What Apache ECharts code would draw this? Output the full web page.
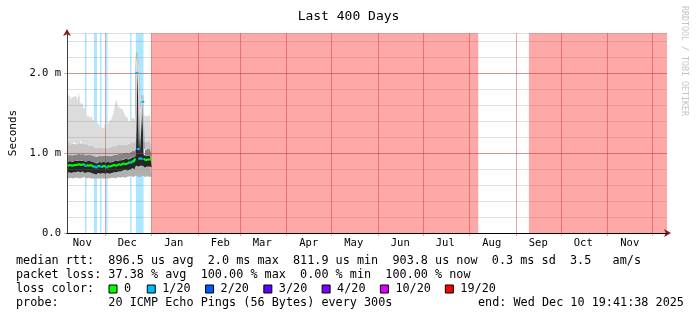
<!DOCTYPE html>
<html><head><meta charset="utf-8">
<script src="https://cdn.jsdelivr.net/npm/echarts@6/dist/echarts.min.js"></script>
<style>html,body{margin:0;padding:0;background:#fff}#c{width:697px;height:321px}</style>
</head><body><div id="c"></div>
<script>
// ---------- data ----------
const startTime = '2024-11-05T19:41:38Z';
const endTime = '2025-12-10T19:41:38Z';
const monthStarts = ['2024-12-01','2025-01-01','2025-02-01','2025-03-01','2025-04-01','2025-05-01','2025-06-01','2025-07-01','2025-08-01','2025-09-01','2025-10-01','2025-11-01','2025-12-01'];
const monthLabelDates = ['2024-11-16','2024-12-16','2025-01-16','2025-02-16','2025-03-16','2025-04-16','2025-05-16','2025-06-16','2025-07-16','2025-08-16','2025-09-16','2025-10-16','2025-11-16'];
const monthLabelNames = ['Nov','Dec','Jan','Feb','Mar','Apr','May','Jun','Jul','Aug','Sep','Oct','Nov'];
const yMajorTicks = [0, 1, 2];   // ms

// daily samples from startTime (ms)
const medianRtt = [0.84,0.85,0.83,0.84,0.85,0.86,0.85,0.86,0.86,0.85,
  0.86,0.85,0.84,0.85,0.84,0.85,0.84,0.83,0.83,0.82,
  0.83,0.84,0.83,0.82,0.84,0.83,0.82,0.84,0.83,0.84,
  0.84,0.85,0.84,0.85,0.86,0.85,0.86,0.87,0.86,0.88,
  0.87,0.89,0.88,0.90,0.89,0.92,2.00,1.05,0.93,0.93,
  1.64,0.93,0.91,0.92,0.94,0.92,0.91];
const lossCount = [0,0,0,0,0,0,0,0,0,0,
  0,0,1,0,0,0,0,0,1,1,
  0,0,1,0,0,0,1,0,0,0,
  0,0,0,0,0,0,0,0,0,0,
  0,0,1,0,0,0,1,1,1,1,
  1,0,0,0,0,0,0];
const smokeMin = [0.69,0.68,0.69,0.69,0.68,0.69,0.70,0.69,0.68,0.69,
  0.69,0.70,0.69,0.68,0.69,0.69,0.68,0.68,0.69,0.68,
  0.68,0.69,0.68,0.68,0.69,0.68,0.68,0.69,0.68,0.69,
  0.69,0.69,0.68,0.69,0.70,0.69,0.70,0.70,0.69,0.70,
  0.70,0.71,0.70,0.71,0.70,0.71,0.72,0.70,0.71,0.70,
  0.72,0.71,0.70,0.71,0.71,0.70,0.71];
const smokeLow = [0.75,0.76,0.74,0.75,0.76,0.77,0.76,0.77,0.77,0.76,
  0.77,0.76,0.75,0.76,0.75,0.76,0.75,0.74,0.74,0.73,
  0.74,0.75,0.74,0.73,0.75,0.74,0.73,0.75,0.74,0.75,
  0.75,0.76,0.75,0.76,0.77,0.76,0.77,0.78,0.77,0.79,
  0.78,0.80,0.79,0.81,0.80,0.82,0.84,0.83,0.83,0.84,
  0.84,0.84,0.82,0.83,0.85,0.83,0.82];
const smokeHigh = [0.89,0.90,0.88,0.89,0.90,0.91,0.90,0.91,0.91,0.90,
  0.91,0.90,0.89,0.90,0.89,0.90,0.89,0.88,0.88,0.87,
  0.88,0.89,0.88,0.87,0.89,0.88,0.87,0.89,0.88,0.89,
  0.89,0.90,0.89,0.90,0.91,0.90,0.91,0.92,0.91,0.93,
  0.92,0.94,0.93,0.95,0.94,0.97,2.27,2.05,0.98,1.60,
  1.73,0.98,0.96,0.97,0.99,0.97,0.96];
const smokeP80 = [0.97,0.98,0.96,0.97,0.98,0.99,0.98,0.99,0.99,0.98,
  0.99,0.98,0.97,0.98,0.97,0.98,0.97,0.96,0.96,0.95,
  0.96,0.97,0.96,0.95,0.97,0.96,0.95,0.97,0.96,0.97,
  0.97,0.98,0.97,0.98,0.99,0.98,0.99,1.00,0.99,1.01,
  1.00,1.02,1.01,1.03,1.02,1.05,2.27,2.05,1.06,1.60,
  1.73,1.06,1.04,1.05,1.07,1.05,1.04];
const smokeP90 = [1.12,1.14,1.10,1.12,1.11,1.13,1.11,1.12,1.15,1.12,
  1.12,1.11,1.10,1.11,1.09,1.10,1.10,1.08,1.07,1.06,
  1.07,1.08,1.07,1.06,1.08,1.07,1.06,1.08,1.07,1.08,
  1.08,1.09,1.08,1.11,1.10,1.10,1.10,1.11,1.10,1.12,
  1.11,1.12,1.12,1.14,1.13,1.15,2.27,2.05,1.16,1.60,
  1.73,1.15,1.14,1.15,1.17,1.15,1.14];
const smokeMax = [1.72,1.72,1.66,1.70,1.70,1.72,1.72,1.66,1.76,1.62,
  1.62,1.56,1.56,1.45,1.47,1.44,1.46,1.42,1.40,1.38,
  1.38,1.36,1.31,1.32,1.30,1.35,1.38,1.34,1.40,1.42,
  1.45,1.50,1.62,1.67,1.58,1.56,1.55,1.54,1.50,1.46,
  1.44,1.39,1.41,1.44,1.43,1.45,2.27,2.05,1.42,1.60,
  1.73,1.46,1.47,1.45,1.48,1.46,1.44];
const outagePeriods = [['2025-01-01T04:00:00Z','2025-08-07T00:00:00Z'],['2025-09-09T18:00:00Z','2025-12-10T19:41:38Z']];

const legendRows = [
  'median rtt:  896.5 us avg  2.0 ms max  811.9 us min  903.8 us now  0.3 ms sd  3.5   am/s',
  'packet loss: 37.38 % avg  100.00 % max  0.00 % min  100.00 % now',
  'loss color:',
  'probe:       20 ICMP Echo Pings (56 Bytes) every 300s'
];
const endText = 'end: Wed Dec 10 19:41:38 2025';
const lossLegendLabels = ['0','1/20','2/20','3/20','4/20','10/20','19/20'];
const lossLegendColors = ['#00ff00','#00b8ff','#0059ff','#5e00ff','#7e00ff','#dd00ff','#ff0000'];

// ---------- build ----------
const DAY = 86400000;
const t0 = Date.parse(startTime), t1 = Date.parse(endTime);
const ts = i => t0 + (i + 0.5) * DAY;
const utc = s => Date.parse(s + 'T00:00:00Z');
const labelMap = {};
monthLabelDates.forEach((d, i) => { labelMap[utc(d)] = monthLabelNames[i]; });

const FONT = 'DejaVu Sans Mono';
const bounds = [smokeMin, smokeLow, smokeHigh, smokeP80, smokeP90, smokeMax];
const bandColors = ['#b0b0b0', '#262626', '#858585', '#c6c6c6', '#dcdcdc'];
const series = [];

// loss background bands
const lossBg = {1:'rgba(0,184,255,0.33)', 2:'rgba(0,89,255,0.33)', 19:'rgba(255,0,0,0.34)', 20:'rgba(255,0,0,0.34)'};
const areas = [];
let i = 0;
while (i < lossCount.length) {
  if (lossCount[i] > 0) {
    let j = i;
    while (j + 1 < lossCount.length && lossCount[j + 1] === lossCount[i]) j++;
    areas.push([{xAxis: t0 + i * DAY, itemStyle: {color: lossBg[lossCount[i]]}}, {xAxis: t0 + (j + 1) * DAY}]);
    i = j + 1;
  } else i++;
}
outagePeriods.forEach(p => areas.push([{xAxis: Date.parse(p[0]), itemStyle: {color: lossBg[20]}}, {xAxis: Date.parse(p[1])}]));
series.push({type: 'line', data: [[t0, null]], silent: true, z: 1,
  markArea: {silent: true, data: areas}});

bounds.forEach((arr, k) => {
  const data = arr.map((v, idx) => [ts(idx), k === 0 ? v : +(v - bounds[k - 1][idx]).toFixed(4)]);
  const s = {type: 'line', stack: 'smoke', step: 'middle', data, symbol: 'none', silent: true, z: 2,
    lineStyle: {width: 0, opacity: 0}};
  if (k > 0) s.areaStyle = {color: bandColors[k - 1], opacity: 1};
  series.push(s);
});

series.push({type: 'line', step: 'middle', z: 6, silent: true, symbol: 'none', connectNulls: false,
  data: medianRtt.map((v, idx) => [ts(idx), lossCount[idx] === 0 ? v : null]),
  lineStyle: {color: '#00ff00', width: 2}});
series.push({type: 'line', z: 7, silent: true, connectNulls: false,
  symbol: 'rect', symbolSize: [3, 2], showSymbol: true, itemStyle: {color: '#00b8ff'},
  data: medianRtt.map((v, idx) => [ts(idx), lossCount[idx] > 0 ? v : null]),
  lineStyle: {width: 0, opacity: 0}});

// legend graphics
const graphic = [];
const LFONT = '11.8px "' + FONT + '"';
const rowY = [261, 275, 289, 303];
legendRows.forEach((txt, r) => graphic.push({type: 'text', x: 16, y: rowY[r], silent: true,
  style: {text: txt, font: LFONT, fill: '#000', verticalAlign: 'middle'}}));
graphic.push({type: 'text', x: 478, y: rowY[3], silent: true,
  style: {text: endText, font: LFONT, fill: '#000', verticalAlign: 'middle'}});
let lx = 109;
lossLegendLabels.forEach((lab, k) => {
  graphic.push({type: 'rect', silent: true, shape: {x: lx, y: rowY[2] - 4, width: 8, height: 8},
    style: {fill: lossLegendColors[k], stroke: '#000', lineWidth: 1}});
  graphic.push({type: 'text', silent: true, x: lx + 15, y: rowY[2],
    style: {text: lab, font: LFONT, fill: '#000', verticalAlign: 'middle'}});
  lx += 31.6 + lab.length * 6.67;
});
graphic.push({type: 'text', silent: true, x: 684, y: 6, rotation: -Math.PI / 2,
  style: {text: 'RRDTOOL / TOBI OETIKER', font: '8.3px "' + FONT + '"', fill: '#c4c4c4', verticalAlign: 'middle'}});

const MGRID = 'rgba(200,40,40,0.42)';
const GRID = 'rgba(120,120,120,0.24)';
const ARROW = '#8a1c1c';

const option = {
  animation: false,
  backgroundColor: '#fff',
  title: {text: 'Last 400 Days', left: 'center', top: 5,
    textStyle: {fontFamily: FONT, fontSize: 13, fontWeight: 'normal', color: '#000'}},
  grid: {left: 67, top: 33, width: 600, height: 200, outerBoundsMode: 'none'},
  xAxis: [{
    type: 'time', min: t0, max: t1, position: 'bottom', z: 5,
    axisLine: {show: true, symbol: ['none', 'arrow'], symbolSize: [6, 7], symbolOffset: [0, 4], lineStyle: {color: ARROW, width: 1}},
    axisTick: {show: false}, axisLabel: {show: false}, splitLine: {show: false}
  }, {
    type: 'value', min: t0, max: t1, position: 'bottom', z: 6,
    axisLine: {show: true, lineStyle: {color: '#000', width: 1}},
    axisTick: {show: true, customValues: monthStarts.map(utc), length: 3, lineStyle: {color: MGRID}},
    axisLabel: {show: true, customValues: monthLabelDates.map(utc), margin: 5,
      fontFamily: FONT, fontSize: 10.5, color: '#000', formatter: v => labelMap[v] || ''},
    splitLine: {show: true, lineStyle: {color: MGRID, width: 1}}
  }],
  yAxis: [{
    type: 'value', min: 0, max: 2.5, interval: 0.2, position: 'left', z: 4,
    axisLine: {show: false}, axisTick: {show: false}, axisLabel: {show: false},
    splitLine: {show: true, lineStyle: {color: GRID, width: 1}}
  }, {
    type: 'value', min: 0, max: 2.5, position: 'left', z: 5,
    axisLine: {show: true, symbol: ['none', 'arrow'], symbolSize: [6, 7], symbolOffset: [0, 4], lineStyle: {color: ARROW, width: 1}},
    axisTick: {show: false}, axisLabel: {show: false}, splitLine: {show: false}
  }, {
    type: 'value', min: 0, max: 2.5, position: 'left', z: 6,
    name: 'Seconds', nameLocation: 'middle', nameGap: 45,
    nameTextStyle: {fontFamily: FONT, fontSize: 11, color: '#000'},
    axisLine: {show: true, lineStyle: {color: '#404040', width: 1}},
    axisTick: {show: true, customValues: yMajorTicks, length: 3, lineStyle: {color: MGRID}},
    axisLabel: {show: true, customValues: yMajorTicks, margin: 6, fontFamily: FONT, fontSize: 10.5, color: '#000',
      formatter: v => v === 0 ? '0.0' : v.toFixed(1) + ' m'},
    splitLine: {show: true, lineStyle: {color: MGRID, width: 1}}
  }],
  series: series.map(s => Object.assign(s, {xAxisIndex: 0, yAxisIndex: 0})),
  graphic
};
const chart = echarts.init(document.getElementById('c'), null, {renderer: 'canvas'});
chart.setOption(option);
</script></body></html>
